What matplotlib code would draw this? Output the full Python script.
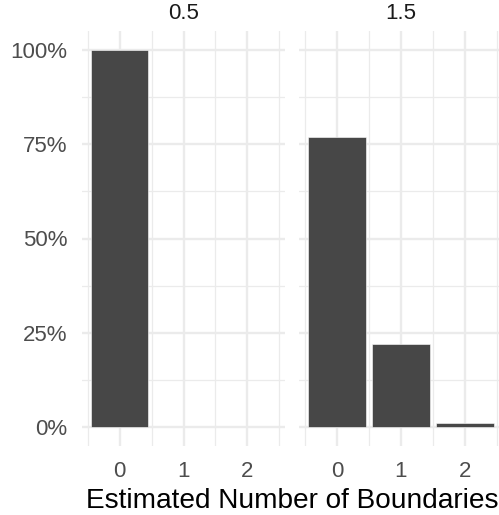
import numpy as np
import matplotlib.pyplot as plt
from matplotlib.ticker import FixedLocator

plt.rcParams['font.family'] = ['Liberation Sans', 'DejaVu Sans']

# data: share of estimated boundaries per facet
facets = ["0.5", "1.5"]
categories = [0, 1, 2]
shares = {
    "0.5": [1.00, 0.0, 0.0],
    "1.5": [0.77, 0.22, 0.01],
}
y_ticks = [0, 0.25, 0.5, 0.75, 1.0]
y_labels = ["0%", "25%", "50%", "75%", "100%"]

W, H = 499, 515
fig = plt.figure(figsize=(W / 100, H / 100), dpi=100)

grid_col = "#EBEBEB"
bar_col = "#474747"
text_col = "#4D4D4D"

# panel positions in pixels (left, right); second panel runs off the right edge
panels = [(81.6, 285.4), (298.6, 503.4)]
top_px, bot_px = 31.2, 445.8

for i, (name, (l, r)) in enumerate(zip(facets, panels)):
    ax = fig.add_axes([l / W, (H - bot_px) / H, (r - l) / W, (bot_px - top_px) / H])
    vals = shares[name]
    x = np.array(categories)
    keep = np.array(vals) > 0
    ax.bar(x[keep], np.array(vals)[keep], width=0.9, color=bar_col,
           edgecolor="#FFFFFF", linewidth=0.4, zorder=3)
    ax.set_xlim(-0.6, 2.6)
    ax.set_ylim(-0.05, 1.05)

    ax.xaxis.set_major_locator(FixedLocator(categories))
    ax.xaxis.set_minor_locator(FixedLocator([-0.5, 0.5, 1.5, 2.5]))
    ax.yaxis.set_major_locator(FixedLocator(y_ticks))
    ax.yaxis.set_minor_locator(FixedLocator([0.125, 0.375, 0.625, 0.875]))
    ax.grid(True, which="major", color=grid_col, linewidth=1.7, zorder=0)
    ax.grid(True, which="minor", color=grid_col, linewidth=0.9, zorder=0)
    ax.set_axisbelow(True)
    for s in ax.spines.values():
        s.set_visible(False)
    ax.tick_params(which="both", length=0)
    ax.set_xticks(categories)
    ax.set_xticklabels([str(c) for c in categories], fontsize=16, color=text_col)
    ax.tick_params(axis="x", pad=11)
    if i == 0:
        ax.set_yticks(y_ticks)
        ax.set_yticklabels(y_labels, fontsize=16, color=text_col)
        ax.tick_params(axis="y", pad=10)
    else:
        ax.set_yticklabels([])
    ax.set_title(name, fontsize=16, color="#1A1A1A", pad=9)

fig.text(292.5 / W, (H - 508) / H, "Estimated Number of Boundaries",
         fontsize=20.2, color="black", ha="center", va="baseline")

fig.savefig("out.png", dpi=100, facecolor="white")
